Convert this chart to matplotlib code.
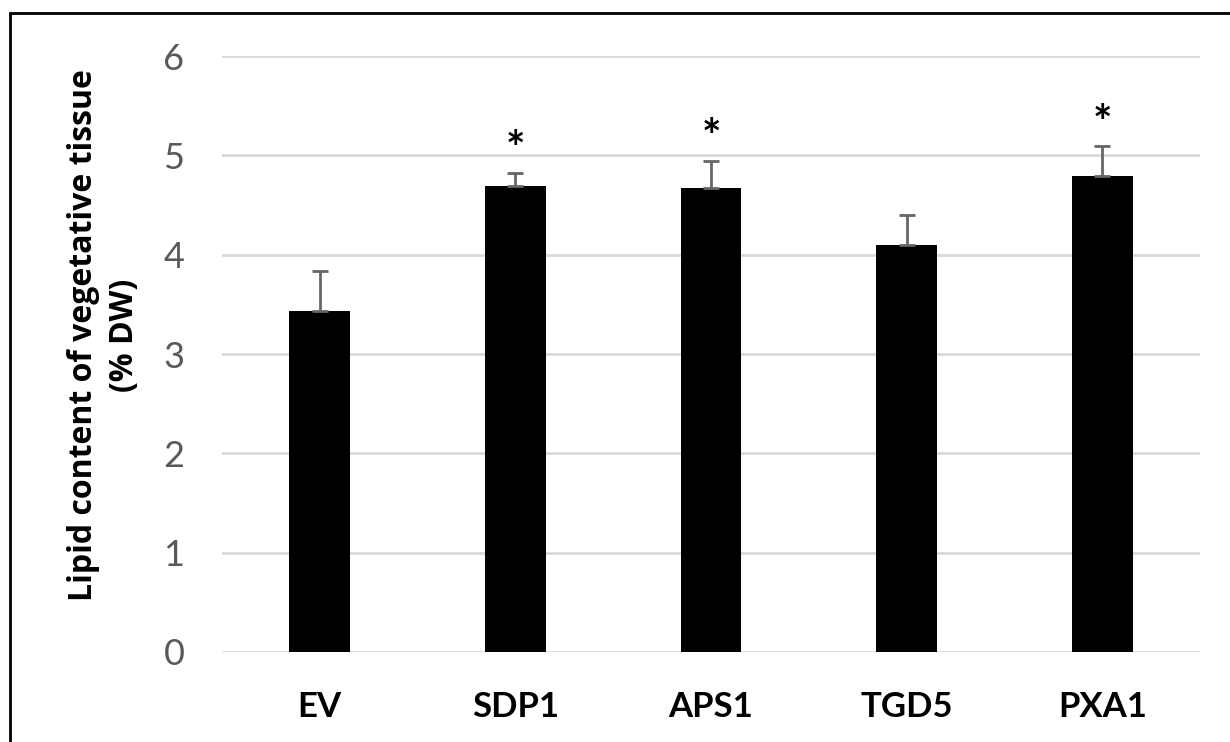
import matplotlib.pyplot as plt
from matplotlib.patches import Rectangle

# Data
genes = ['EV', 'SDP1', 'APS1', 'TGD5', 'PXA1']
lipid = [3.43, 4.69, 4.67, 4.10, 4.79]
err = [0.41, 0.13, 0.27, 0.30, 0.30]
signif = [False, True, True, False, True]

plt.rcParams['font.family'] = ['Lato', 'DejaVu Sans']

fig = plt.figure(figsize=(12.3, 7.42), dpi=100)
ax = fig.add_axes([0.1805, 0.1213, 0.7951, 0.8032])

x = range(len(genes))
ax.bar(x, lipid, width=0.31, color='black', zorder=3)
ax.errorbar(x, lipid, yerr=[[0] * len(err), err], fmt='none', ecolor='#666666',
            elinewidth=2, capsize=6, capthick=2, zorder=4)

for i, (v, e, s) in enumerate(zip(lipid, err, signif)):
    if s:
        ax.text(i, v + e + 0.22, '*', ha='center', va='center', fontsize=33,
                fontweight='bold', color='black')

ax.set_xlim(-0.5, 4.5)
ax.set_ylim(0, 6)
ax.set_yticks(range(7))
ax.yaxis.grid(True, color='#d9d9d9', linewidth=2, zorder=0)
ax.set_axisbelow(True)
for sp in ax.spines.values():
    sp.set_visible(False)
ax.tick_params(axis='both', length=0)
ax.tick_params(axis='y', labelsize=26, labelcolor='#595959', pad=27)
ax.tick_params(axis='x', labelsize=25, pad=28)
ax.set_xticks(list(x))
ax.set_xticklabels(genes, fontweight='bold')
ax.set_ylabel('Lipid content of vegetative tissue\n(% DW)', fontsize=23,
              fontweight='bold', family=['Open Sans', 'DejaVu Sans'],
              linespacing=1.3, va='center')
ax.yaxis.set_label_coords(-0.1207, 0.532)

# outer frame
fig.patches.append(Rectangle((10 / 1230, -0.05), 1.2, 1 - 13 / 742 + 0.05,
                             transform=fig.transFigure, fill=False,
                             edgecolor='black', linewidth=2))

plt.savefig('out.png', dpi=100)
